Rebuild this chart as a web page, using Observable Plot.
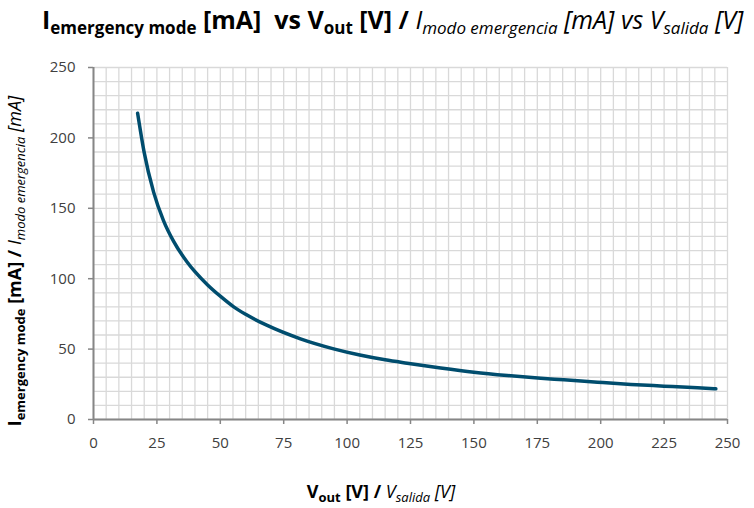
<!DOCTYPE html>
<html>
<head>
<meta charset="utf-8">
<script src="https://cdn.jsdelivr.net/npm/d3@7"></script>
<script src="https://cdn.jsdelivr.net/npm/@observablehq/plot@0.6"></script>
<style>
  html, body { margin: 0; padding: 0; background: #fff; }
  #chart svg { display: block; overflow: visible; }
</style>
</head>
<body>
<div id="chart"></div>
<script>
// Values
const voltage = [17.4, 20, 23.7, 27.6, 31.6, 36.9, 40, 45, 50, 55.3, 60, 68.5, 81.6, 94.7, 105, 115, 123.7, 136.9, 150, 163.2, 176.4, 185.5, 198.7, 211.9, 225, 238.2, 245.4];
const current = [217.5, 189.5, 161.5, 141.3, 126.5, 111.9, 105.0, 95.6, 87.6, 80.0, 74.7, 66.8, 57.3, 50.2, 45.8, 42.4, 40.0, 36.6, 33.6, 31.25, 29.3, 28.2, 26.5, 24.9, 23.7, 22.5, 21.8];
const xTicks = [0, 25, 50, 75, 100, 125, 150, 175, 200, 225, 250];
const yTicks = [0, 50, 100, 150, 200, 250];
const xGrid = d3.range(0, 251, 5);
const yGrid = d3.range(0, 251, 10);

const data = voltage.map((v, i) => ({v, i: current[i]}));

const font = "'Open Sans', sans-serif";
const grey = "#868686";

const chart = Plot.plot({
  width: 754,
  height: 508,
  marginTop: 67,
  marginLeft: 93,
  marginRight: 27,
  marginBottom: 89,
  style: {fontFamily: font, fontSize: "15px", color: "#404040", background: "#fff"},
  x: {domain: [0, 250]},
  y: {domain: [0, 250]},
  marks: [
    Plot.ruleX(xGrid, {stroke: "#d9d9d9", strokeWidth: 1.3}),
    Plot.ruleY(yGrid, {stroke: "#d9d9d9", strokeWidth: 1.3}),
    Plot.axisX({ticks: xTicks, tickSize: 5, tickPadding: 13, stroke: grey, strokeWidth: 1.5, label: null, fill: "#404040"}),
    Plot.axisY({ticks: yTicks, tickSize: 5, tickPadding: 13, stroke: grey, strokeWidth: 1.5, label: null, fill: "#404040"}),
    Plot.ruleX([0], {stroke: grey, strokeWidth: 2}),
    Plot.ruleY([0], {stroke: grey, strokeWidth: 2}),
    Plot.line(data, {x: "v", y: "i", stroke: "#004d6e", strokeWidth: 3.5, curve: "monotone-x", strokeLinecap: "round"})
  ]
});

document.getElementById("chart").appendChild(chart);

const svg = d3.select(chart);

function richText(parts, x, y, anchor, transform) {
  const t = svg.append("text")
    .attr("x", x).attr("y", y)
    .attr("text-anchor", anchor)
    .attr("font-family", font)
    .attr("fill", "#000");
  if (transform) t.attr("transform", transform);
  let shift = 0;
  for (const p of parts) {
    const target = p.sub ? p.shift : 0;
    t.append("tspan")
      .attr("font-size", p.size)
      .attr("font-weight", p.bold ? "bold" : "normal")
      .attr("font-style", p.italic ? "italic" : "normal")
      .attr("dy", target - shift)
      .text(p.t);
    shift = target;
  }
  return t;
}

// Title
richText([
  {t: "I", size: 25, bold: true},
  {t: "emergency mode", size: 17, bold: true, sub: true, shift: 5},
  {t: " [mA]\u00a0\u00a0vs V", size: 25, bold: true},
  {t: "out", size: 17, bold: true, sub: true, shift: 5},
  {t: " [V] / ", size: 25, bold: true},
  {t: "I", size: 25, italic: true},
  {t: "modo emergencia", size: 17, italic: true, sub: true, shift: 5},
  {t: " [mA] vs V", size: 25, italic: true},
  {t: "salida", size: 17, italic: true, sub: true, shift: 5},
  {t: " [V]", size: 25, italic: true}
], 42, 29, "start");

// X axis label
richText([
  {t: "V", size: 18, bold: true},
  {t: "out", size: 13, bold: true, sub: true, shift: 4},
  {t: " [V] / ", size: 18, bold: true},
  {t: "V", size: 18, italic: true},
  {t: "salida", size: 13, italic: true, sub: true, shift: 4},
  {t: " [V]", size: 18, italic: true}
], 381, 498, "middle");

// Y axis label
richText([
  {t: "I", size: 18, bold: true},
  {t: "emergency mode", size: 13, bold: true, sub: true, shift: 4},
  {t: " [mA] / ", size: 18, bold: true},
  {t: "I", size: 18, italic: true},
  {t: "modo emergencia", size: 13, italic: true, sub: true, shift: 4},
  {t: " [mA]", size: 18, italic: true}
], 0, 0, "middle", "translate(21,261) rotate(-90)");
</script>
</body>
</html>
